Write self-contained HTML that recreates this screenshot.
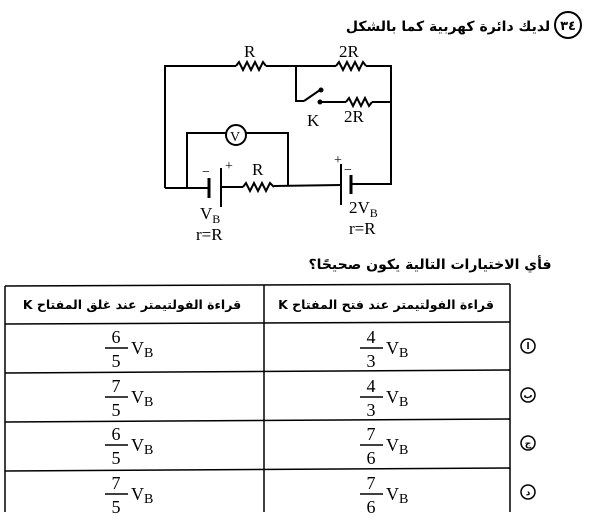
<!DOCTYPE html>
<html><head><meta charset="utf-8"><style>
body{margin:0;background:#fff;}
svg{display:block;}
.ar{font-family:"DejaVu Sans","Liberation Sans",sans-serif;font-weight:bold;}
.s{font-family:"Liberation Serif",serif;}
</style></head><body>
<svg width="600" height="521" viewBox="0 0 600 521" xmlns="http://www.w3.org/2000/svg">
<g fill="none" stroke="#000" stroke-width="2">
<circle cx="568" cy="25" r="13"/>
<polyline points="165,188 165,66 236,66"/>
<polyline points="236,66 239,62 243,70 247,62 251,70 255,62 259,70 263,62 266,66"/>
<line x1="266" y1="66" x2="336" y2="66"/>
<polyline points="336,66 339,62 343,70 347,62 351,70 355,62 359,70 363,62 366,66"/>
<polyline points="366,66 391,66 391,184 352,184"/>
<polyline points="296,66 296,101 304,101"/>
<line x1="304" y1="101" x2="320" y2="90"/>
<circle cx="321" cy="90" r="1.5" fill="#000"/>
<circle cx="320" cy="102" r="1.5" fill="#000"/>
<line x1="320" y1="102" x2="346" y2="102"/>
<polyline points="346,102 349,98 353,106 357,98 361,106 365,98 369,106 372,102"/>
<line x1="372" y1="102" x2="391" y2="102"/>
<polyline points="187,188 187,133 226,133"/>
<circle cx="236" cy="135" r="10"/>
<polyline points="246,133 288,133 288,185"/>
<line x1="165" y1="188" x2="209" y2="188"/>
<line x1="209" y1="178" x2="209" y2="198" stroke-width="3"/>
<line x1="221" y1="168" x2="221" y2="207"/>
<line x1="221" y1="187" x2="243" y2="187"/>
<polyline points="243,187 246,183 250,191 254,183 258,191 262,183 266,191 270,183 274,187"/>
<line x1="274" y1="186" x2="341" y2="185"/>
<line x1="341" y1="164" x2="341" y2="205"/>
<line x1="351" y1="175" x2="351" y2="194" stroke-width="3"/>
</g>
<g class="s" font-size="17" fill="#000">
<text x="244" y="57">R</text><text x="339" y="57">2R</text>
<text x="307" y="126">K</text><text x="344" y="122">2R</text>
<text x="230" y="141" font-size="14">V</text>
<text x="252" y="175">R</text>
<text x="225" y="170" font-size="14">+</text><text x="202" y="176" font-size="14">−</text>
<text x="334" y="164" font-size="14">+</text><text x="344" y="174" font-size="14">−</text>
<text x="200" y="219">V<tspan font-size="12" dy="4">B</tspan></text>
<text x="196" y="240">r=R</text>
<text x="349" y="213">2V<tspan font-size="12" dy="4">B</tspan></text>
<text x="349" y="234">r=R</text>
</g>
<g class="ar" fill="#000" text-anchor="middle">
<text x="568" y="30" font-size="13">٣٤</text>
<text x="448" y="31" font-size="14" direction="rtl">لديك دائرة كهربية كما بالشكل</text>
<text x="430" y="269" font-size="14" direction="rtl">فأي الاختيارات التالية يكون صحيحًا؟</text>
<text x="386" y="309" font-size="12.5" direction="rtl">قراءة الفولتيمتر عند فتح المفتاح K</text>
<text x="132" y="309" font-size="12.5" direction="rtl">قراءة الفولتيمتر عند غلق المفتاح K</text>
</g>
<g fill="none" stroke="#000" stroke-width="1.5">
<line x1="5" y1="286" x2="510" y2="284"/>
<line x1="5" y1="286" x2="5" y2="512"/>
<line x1="510" y1="284" x2="510" y2="512"/>
<line x1="264" y1="285" x2="264" y2="512"/>
<line x1="5" y1="324" x2="510" y2="322"/>
<line x1="5" y1="373" x2="510" y2="370"/>
<line x1="5" y1="422" x2="510" y2="419"/>
<line x1="5" y1="471" x2="510" y2="468"/>
<circle cx="528" cy="346" r="7"/><circle cx="528" cy="395" r="7"/>
<circle cx="528" cy="443" r="7"/><circle cx="528" cy="492" r="7"/>
<line x1="105" y1="348" x2="128" y2="348"/><line x1="105" y1="397" x2="128" y2="397"/>
<line x1="105" y1="445" x2="128" y2="445"/><line x1="105" y1="494" x2="128" y2="494"/>
<line x1="360" y1="348" x2="383" y2="348"/><line x1="360" y1="397" x2="383" y2="397"/>
<line x1="360" y1="445" x2="383" y2="445"/><line x1="360" y1="494" x2="383" y2="494"/>
</g>
<g class="s" font-size="18" fill="#000" text-anchor="middle">
<text x="116" y="343">6</text><text x="116" y="367">5</text>
<text x="116" y="392">7</text><text x="116" y="416">5</text>
<text x="116" y="440">6</text><text x="116" y="464">5</text>
<text x="116" y="489">7</text><text x="116" y="513">5</text>
<text x="371" y="343">4</text><text x="371" y="367">3</text>
<text x="371" y="392">4</text><text x="371" y="416">3</text>
<text x="371" y="440">7</text><text x="371" y="464">6</text>
<text x="371" y="489">7</text><text x="371" y="513">6</text>
</g>
<g class="s" font-size="18" fill="#000">
<text x="131" y="354">V<tspan font-size="14" dy="3">B</tspan></text>
<text x="131" y="403">V<tspan font-size="14" dy="3">B</tspan></text>
<text x="131" y="451">V<tspan font-size="14" dy="3">B</tspan></text>
<text x="131" y="500">V<tspan font-size="14" dy="3">B</tspan></text>
<text x="386" y="354">V<tspan font-size="14" dy="3">B</tspan></text>
<text x="386" y="403">V<tspan font-size="14" dy="3">B</tspan></text>
<text x="386" y="451">V<tspan font-size="14" dy="3">B</tspan></text>
<text x="386" y="500">V<tspan font-size="14" dy="3">B</tspan></text>
</g>
<g class="ar" font-size="9" fill="#000" text-anchor="middle">
<text x="528" y="349">ا</text><text x="528" y="398">ب</text><text x="528" y="446">ج</text><text x="528" y="495">د</text>
</g>
</svg>
</body></html>
